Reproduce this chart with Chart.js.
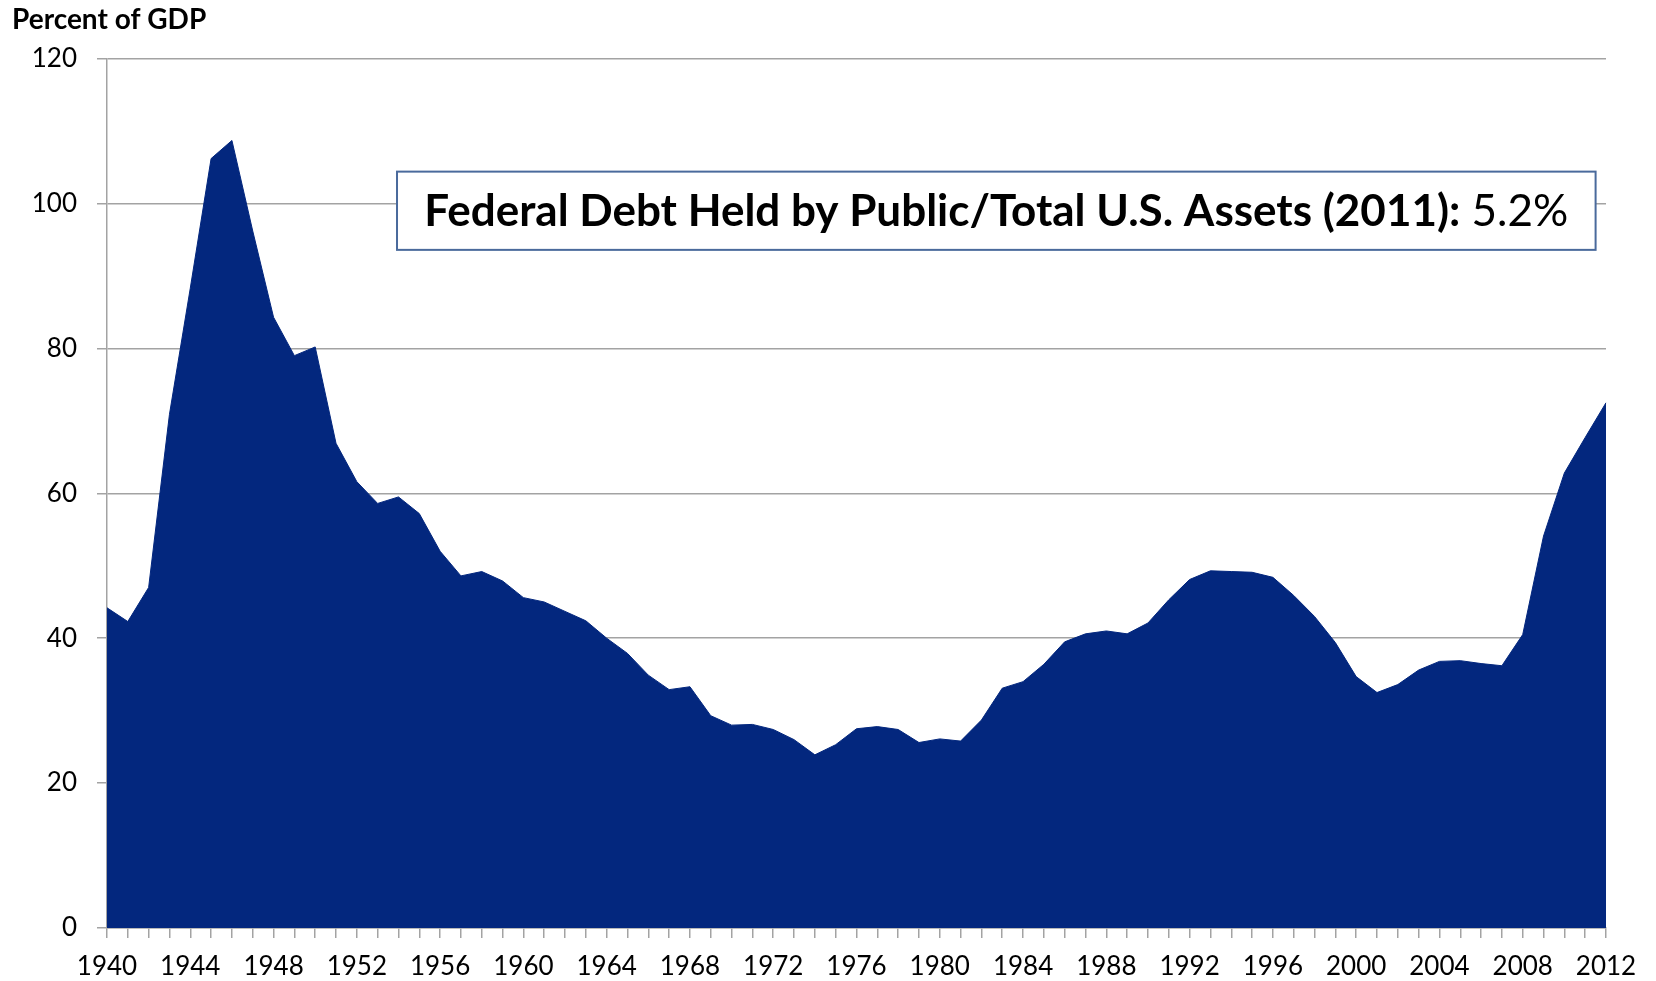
<!DOCTYPE html>
<html>
<head>
<meta charset="utf-8">
<script src="https://cdn.jsdelivr.net/npm/chart.js@4.4.0/dist/chart.umd.min.js"></script>
<style>
  html, body { margin: 0; padding: 0; background: #fff; }
  #wrap { width: 1656px; height: 981px; position: relative; }
</style>
</head>
<body>
<div id="wrap"><canvas id="debt"></canvas></div>
<script>
// federal debt held by the public, percent of GDP
var years = [
    1940, 1941, 1942, 1943, 1944, 1945, 1946, 1947, 1948, 1949,
    1950, 1951, 1952, 1953, 1954, 1955, 1956, 1957, 1958, 1959,
    1960, 1961, 1962, 1963, 1964, 1965, 1966, 1967, 1968, 1969,
    1970, 1971, 1972, 1973, 1974, 1975, 1976, 1977, 1978, 1979,
    1980, 1981, 1982, 1983, 1984, 1985, 1986, 1987, 1988, 1989,
    1990, 1991, 1992, 1993, 1994, 1995, 1996, 1997, 1998, 1999,
    2000, 2001, 2002, 2003, 2004, 2005, 2006, 2007, 2008, 2009,
    2010, 2011, 2012
];
var debtPctGdp = [
    44.2, 42.3, 47.0, 70.9, 88.3, 106.2, 108.7, 96.2, 84.3, 79.0,
    80.2, 66.9, 61.6, 58.6, 59.5, 57.2, 52.0, 48.6, 49.2, 47.9,
    45.6, 45.0, 43.7, 42.4, 40.0, 37.9, 34.9, 32.9, 33.3, 29.3,
    28.0, 28.1, 27.4, 26.0, 23.9, 25.3, 27.5, 27.8, 27.4, 25.6,
    26.1, 25.8, 28.7, 33.1, 34.0, 36.4, 39.5, 40.6, 41.0, 40.6,
    42.1, 45.3, 48.1, 49.3, 49.2, 49.1, 48.4, 45.9, 43.0, 39.4,
    34.7, 32.5, 33.6, 35.6, 36.8, 36.9, 36.5, 36.2, 40.5, 54.1,
    62.8, 67.7, 72.5
];
var yearTickLabels = ["1940", "1944", "1948", "1952", "1956", "1960", "1964", "1968",
    "1972", "1976", "1980", "1984", "1988", "1992", "1996", "2000", "2004", "2008", "2012"];
var yAxisTitle = "Percent of GDP";
var noteBold = "Federal Debt Held by Public/Total U.S. Assets (2011):";
var noteValue = " 5.2%";

var FONT = "Lato";
var GRID = "#a3a3a3";

// the boxed note, placed in data space (year index, percent)
var noteBox = {
    id: "noteBox",
    afterDraw: function (chart) {
        var c = chart.ctx;
        var xs = chart.scales.x, ys = chart.scales.y;
        var left = xs.getPixelForValue(13.93);
        var right = xs.getPixelForValue(71.5);
        var top = ys.getPixelForValue(104.4);
        var bottom = ys.getPixelForValue(93.6);
        c.save();
        c.fillStyle = "#ffffff";
        c.fillRect(left, top, right - left, bottom - top);
        c.strokeStyle = "#4a6a9c";
        c.lineWidth = 2;
        c.strokeRect(left, top, right - left, bottom - top);
        var size = 44;
        var midY = (top + bottom) / 2 + 1;
        c.textBaseline = "middle";
        c.fillStyle = "#000000";
        c.font = "bold " + size + "px " + FONT;
        var w1 = c.measureText(noteBold).width;
        c.font = size + "px " + FONT;
        var w2 = c.measureText(noteValue).width;
        var startX = (left + right) / 2 - (w1 + w2) / 2;
        c.font = "bold " + size + "px " + FONT;
        c.fillText(noteBold, startX, midY);
        c.font = size + "px " + FONT;
        c.fillText(noteValue, startX + w1, midY);
        c.restore();
    }
};

var ctx = document.getElementById("debt").getContext("2d");
var myChart = new Chart(ctx, {
    type: "line",
    data: {
        labels: years.map((item) => String(item)),
        datasets: [
            {
                label: "Debt held by public",
                data: debtPctGdp,
                fill: "origin",
                backgroundColor: "#03277e",
                borderColor: "#03277e",
                borderWidth: 1,
                pointRadius: 0,
                tension: 0,
            },
        ],
    },
    options: {
        responsive: true,
        maintainAspectRatio: false,
        animation: false,
        layout: {
            padding: { left: 12, right: 50, top: 0, bottom: 0 },
        },
        scales: {
            x: {
                type: "category",
                offset: false,
                grid: {
                    drawOnChartArea: false,
                    drawTicks: true,
                    tickLength: 10,
                    color: GRID,
                    lineWidth: 1.5,
                },
                border: { color: GRID, width: 1.5 },
                ticks: {
                    autoSkip: false,
                    maxRotation: 0,
                    padding: 13,
                    color: "#000000",
                    font: { family: FONT, size: 26 },
                    callback: function (val) {
                        var lab = this.getLabelForValue(val);
                        return yearTickLabels.indexOf(lab) >= 0 ? lab : "";
                    },
                },
                afterFit: function (scale) {
                    scale.height = 53;
                },
            },
            y: {
                min: 0,
                max: 120,
                grid: {
                    color: GRID,
                    lineWidth: 1.5,
                    tickLength: 10,
                },
                border: { color: GRID, width: 1.5 },
                ticks: {
                    stepSize: 20,
                    padding: 20,
                    color: "#000000",
                    font: { family: FONT, size: 26 },
                },
                afterFit: function (scale) {
                    scale.width = 95;
                },
            },
        },
        plugins: {
            legend: { display: false },
            tooltip: { enabled: false },
            title: {
                display: true,
                text: yAxisTitle,
                align: "start",
                color: "#000000",
                padding: { top: 3, bottom: 22 },
                font: { family: FONT, size: 28, weight: "bold" },
            },
        },
    },
    plugins: [noteBox],
});
</script>
</body>
</html>
